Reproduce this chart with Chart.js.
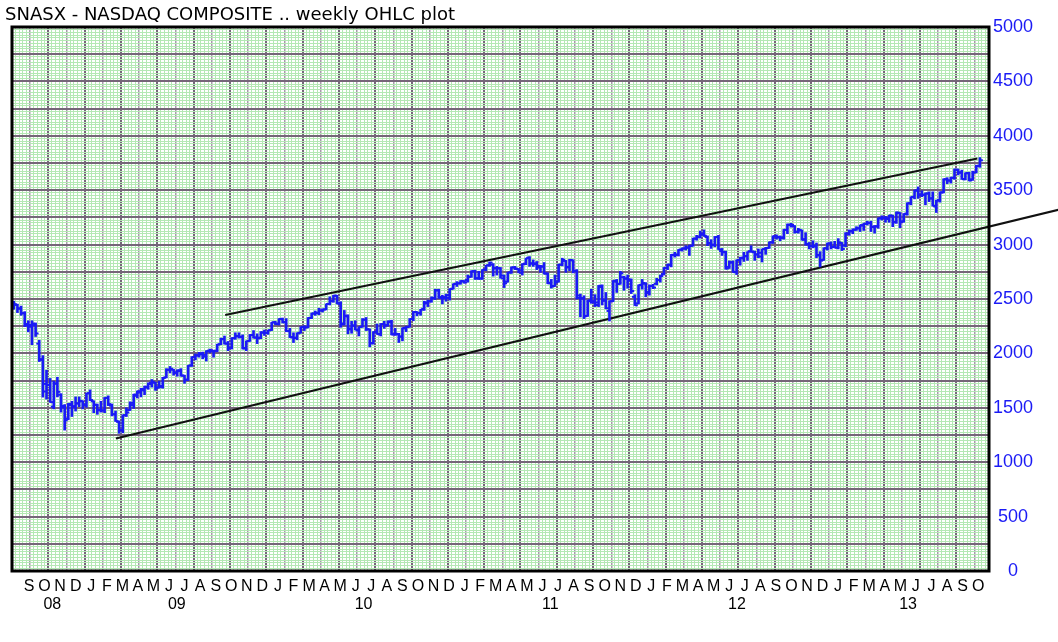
<!DOCTYPE html>
<html><head><meta charset="utf-8">
<script src="https://cdn.jsdelivr.net/npm/chart.js@4.4.1/dist/chart.umd.min.js"></script>
<style>html,body{margin:0;padding:0;background:#fff;}#wrap{width:1058px;height:642px;}</style>
</head><body><div id="wrap"><canvas id="c" width="1058" height="642"></canvas></div>
<script>
const titleText = 'SNASX - NASDAQ COMPOSITE .. weekly OHLC plot';

// Weekly OHLC, week ending 15 Aug 2008 ... 20 Sep 2013
const open = [
2414,2445,2410,2370,2270,2245,2260,2090,1940,1720,
1710,1510,1725,1620,1505,1400,1525,1515,1540,1560,
1525,1635,1560,1525,1480,1475,1590,1520,1440,1370,
1295,1430,1480,1525,1610,1640,1660,1685,1730,1730,
1690,1700,1780,1850,1850,1820,1845,1795,1760,1890,
1965,1985,1990,1970,2025,2020,2025,2085,2130,2090,
2050,2140,2160,2150,2050,2115,2170,2145,2145,2190,
2190,2215,2285,2275,2315,2285,2205,2150,2145,2190,
2240,2240,2325,2365,2370,2395,2405,2455,2480,2530,
2455,2275,2340,2220,2255,2210,2245,2310,2220,2095,
2200,2175,2270,2260,2295,2180,2175,2155,2230,2245,
2315,2380,2370,2410,2460,2480,2510,2580,2510,2510,
2510,2595,2640,2645,2660,2675,2705,2755,2690,2690,
2770,2810,2815,2785,2780,2690,2660,2745,2790,2775,
2740,2825,2880,2825,2820,2790,2800,2735,2650,2620,
2660,2815,2850,2795,2855,2760,2510,2505,2345,2490,
2470,2445,2610,2490,2390,2480,2660,2640,2700,2690,
2670,2520,2460,2630,2640,2565,2620,2640,2675,2730,
2785,2810,2905,2910,2955,2965,2970,2990,3055,3075,
3100,3070,3015,2995,3070,2940,2930,2795,2835,2750,
2860,2880,2895,2940,2930,2910,2890,2960,2970,3020,
3075,3065,3060,3135,3180,3170,3120,3130,3050,3000,
2985,2990,2900,2860,2965,3010,2980,2975,3015,2990,
3100,3120,3140,3150,3175,3190,3200,3165,3165,3240,
3245,3235,3265,3210,3290,3215,3285,3380,3440,3495,
3455,3460,3470,3425,3350,3410,3480,3600,3590,3615,
3685,3665,3600,3655,3600,3665,3725];
const high = [
2480,2453,2435,2384,2300,2300,2280,2120,1980,1845,
1770,1745,1781,1630,1530,1540,1560,1600,1600,1565,
1635,1665,1565,1535,1560,1595,1610,1535,1470,1380,
1435,1500,1555,1625,1655,1680,1700,1730,1760,1735,
1745,1780,1860,1880,1855,1850,1860,1800,1890,1970,
1995,2010,2012,2025,2040,2030,2085,2140,2160,2110,
2145,2190,2190,2170,2115,2175,2210,2180,2200,2215,
2215,2286,2295,2320,2325,2320,2230,2190,2190,2245,
2255,2330,2370,2390,2415,2410,2455,2520,2535,2535,
2475,2395,2355,2295,2300,2245,2320,2330,2225,2200,
2270,2275,2295,2300,2305,2230,2185,2235,2250,2320,
2385,2385,2405,2480,2490,2520,2590,2590,2535,2545,
2595,2640,2660,2670,2670,2720,2760,2765,2755,2770,
2810,2840,2825,2800,2790,2720,2745,2795,2800,2780,
2825,2875,2890,2860,2845,2810,2835,2740,2680,2720,
2820,2875,2855,2865,2860,2770,2545,2530,2490,2590,
2540,2625,2630,2560,2485,2670,2680,2755,2710,2720,
2685,2540,2630,2680,2650,2630,2635,2690,2720,2790,
2820,2910,2930,2955,2970,2990,2995,3060,3085,3125,
3135,3080,3045,3075,3085,2965,2940,2850,2850,2860,
2885,2930,2935,2990,2940,2960,2960,2975,3025,3080,
3090,3080,3140,3190,3196,3175,3150,3135,3110,3020,
3035,3015,2935,2970,3015,3025,3030,3055,3020,3110,
3135,3145,3165,3180,3195,3215,3215,3175,3245,3265,
3260,3270,3270,3300,3295,3285,3385,3440,3500,3530,
3495,3475,3485,3485,3410,3485,3605,3615,3620,3695,
3695,3685,3660,3665,3675,3730,3800];
const low = [
2406,2375,2350,2246,2198,2080,2155,1925,1598,1580,
1550,1490,1600,1460,1295,1390,1420,1470,1510,1490,
1505,1565,1455,1440,1460,1455,1520,1425,1375,1265,
1270,1420,1475,1495,1590,1600,1620,1670,1690,1660,
1680,1680,1775,1820,1800,1790,1790,1725,1750,1880,
1940,1965,1950,1930,2005,1965,2015,2080,2085,2025,
2040,2130,2140,2040,2025,2110,2140,2090,2135,2165,
2175,2210,2265,2260,2280,2200,2145,2100,2125,2185,
2210,2235,2320,2350,2355,2380,2400,2445,2470,2455,
2240,2260,2180,2185,2215,2160,2240,2210,2060,2085,
2175,2160,2230,2250,2170,2165,2100,2115,2200,2240,
2300,2345,2350,2395,2430,2470,2495,2505,2455,2480,
2490,2590,2615,2635,2645,2655,2700,2680,2680,2680,
2760,2800,2710,2720,2690,2605,2655,2735,2770,2740,
2720,2815,2800,2800,2770,2745,2730,2640,2600,2615,
2655,2805,2745,2760,2740,2500,2335,2320,2340,2460,
2430,2430,2445,2410,2298,2475,2560,2635,2580,2600,
2550,2440,2455,2590,2520,2535,2595,2630,2655,2720,
2770,2795,2885,2895,2940,2950,2900,2985,3040,3060,
3075,2990,2965,2980,2955,2900,2775,2780,2745,2725,
2810,2845,2855,2930,2855,2880,2840,2910,2965,3010,
3050,3035,3050,3100,3160,3105,3105,3040,2995,2960,
2970,2880,2795,2855,2950,2960,2970,2960,2945,2980,
3085,3100,3130,3120,3130,3180,3120,3105,3150,3225,
3205,3205,3165,3195,3155,3205,3270,3365,3420,3425,
3440,3365,3395,3355,3295,3390,3475,3560,3565,3600,
3640,3600,3595,3585,3590,3660,3710];
const close = [
2453,2415,2368,2256,2261,2274,2183,1947,1650,1711,
1552,1721,1647,1517,1384,1536,1509,1541,1564,1530,
1632,1572,1529,1477,1476,1592,1534,1441,1378,1294,
1432,1457,1545,1622,1653,1673,1694,1719,1739,1680,
1692,1774,1849,1859,1827,1838,1797,1756,1887,1966,
1979,2000,1986,2021,2029,2019,2081,2133,2091,2048,
2139,2157,2154,2045,2112,2168,2146,2138,2194,2190,
2212,2286,2269,2317,2288,2205,2147,2141,2184,2244,
2238,2326,2368,2374,2395,2403,2454,2481,2530,2461,
2266,2347,2229,2257,2219,2244,2310,2223,2092,2196,
2179,2269,2255,2288,2173,2180,2154,2234,2242,2316,
2381,2371,2402,2469,2479,2507,2579,2518,2518,2535,
2591,2638,2643,2666,2653,2703,2755,2690,2687,2769,
2809,2834,2781,2785,2716,2644,2743,2790,2780,2765,
2820,2874,2828,2828,2803,2797,2733,2644,2616,2653,
2816,2860,2790,2859,2756,2532,2508,2342,2480,2480,
2468,2622,2483,2415,2479,2668,2637,2737,2686,2679,
2573,2442,2627,2647,2555,2619,2605,2674,2711,2787,
2817,2906,2904,2952,2964,2976,2988,3055,3068,3092,
3081,3011,3000,3069,2956,2934,2779,2838,2747,2858,
2873,2892,2935,2937,2908,2925,2958,2968,3021,3077,
3070,3067,3136,3184,3180,3116,3136,3044,3006,2988,
2982,2905,2853,2967,3010,2978,2971,3021,2960,3102,
3126,3135,3150,3179,3194,3199,3162,3170,3244,3249,
3245,3268,3204,3295,3206,3279,3379,3437,3499,3459,
3456,3469,3424,3357,3403,3479,3600,3588,3613,3690,
3660,3603,3658,3590,3660,3722,3775];

// Trend lines: [week index, value]
const trendUpper = [{x: 58.7, y: 2352}, {x: 265.8, y: 3792}];
const trendLower = [{x: 28.6, y: 1218}, {x: 288.2, y: 3321}];

// Month categories Sep 2008 .. Oct 2013
const monthLetters = 'JFMAMJJASOND';
const monthLabels = [];
const monthYears = [];
for (let y = 2008, m = 8; y < 2013 || (y === 2013 && m <= 9);) {
  monthLabels.push(monthLetters[m]); monthYears.push(y);
  m++; if (m === 12) { m = 0; y++; }
}
const yearLabels = ['08', '09', '10', '11', '12', '13'];
const yearCenters = yearLabels.map(lbl => {
  const idx = [];
  monthYears.forEach((y, i) => { if (String(y).slice(2) === lbl) idx.push(i); });
  return (idx[0] + idx[idx.length - 1]) / 2;
});

const BLUE = '#1a1af5';
const DARK = '#756679';
const MID = '#a898ab';
const GREEN = '#b4e8b4';
const weekPos = close.map((_, i) => i + 0.5);

const framePlugin = {
  id: 'frame',
  afterDatasetsDraw(chart) {
    const {ctx, chartArea: a} = chart;
    ctx.save();
    ctx.strokeStyle = '#000';
    ctx.lineWidth = 3;
    ctx.strokeRect(a.left, a.top, a.right - a.left, a.bottom - a.top);
    ctx.restore();
  }
};

new Chart(document.getElementById('c'), {
  type: 'scatter',
  data: {
    datasets: [
      { type: 'bar', data: weekPos.map((x, i) => ({x, y: [low[i], high[i]]})),
        backgroundColor: BLUE, barThickness: 2, xAxisID: 'x', yAxisID: 'y' },
      { type: 'scatter', data: weekPos.map((x, i) => ({x: x - 0.4, y: open[i]})),
        pointStyle: 'line', pointRadius: 1.5, pointBorderWidth: 2, pointBorderColor: BLUE,
        pointBackgroundColor: BLUE, xAxisID: 'x', yAxisID: 'y' },
      { type: 'scatter', data: weekPos.map((x, i) => ({x: x + 0.4, y: close[i]})),
        pointStyle: 'line', pointRadius: 1.5, pointBorderWidth: 2, pointBorderColor: BLUE,
        pointBackgroundColor: BLUE, xAxisID: 'x', yAxisID: 'y' },
      { type: 'line', data: trendUpper, borderColor: '#111', borderWidth: 2, pointRadius: 0,
        xAxisID: 'x', yAxisID: 'y' },
      { type: 'line', data: trendLower, borderColor: '#111', borderWidth: 2, pointRadius: 0,
        clip: false, xAxisID: 'x', yAxisID: 'y' }
    ]
  },
  options: {
    responsive: false, animation: false, events: [],
    layout: { padding: { left: 5, right: 0, top: 0, bottom: 0 } },
    plugins: {
      legend: { display: false }, tooltip: { enabled: false },
      title: { display: true, text: titleText, align: 'start', color: '#000',
        font: { family: 'DejaVu Sans', size: 18, weight: 'normal' },
        padding: { top: 4.4, bottom: 1 } }
    },
    scales: {
      x: { type: 'linear', position: 'bottom', min: 0, max: 269, weight: 0, offset: false,
        ticks: { display: false, stepSize: 1, autoSkip: false },
        grid: { offset: false, drawTicks: false,
          color: c => { const v = c.tick.value; return v % 10 === 0 ? DARK : (v % 5 === 0 ? MID : GREEN); },
          lineWidth: c => { const v = c.tick.value; return v % 10 === 0 ? 2 : (v % 5 === 0 ? 1.5 : 1); } },
        border: { display: false },
        afterFit: s => { s.height = 0; } },
      xm: { type: 'linear', position: 'bottom', min: -1.093, max: 61.7, weight: 1, offset: false,
        afterBuildTicks: s => { s.ticks = monthLabels.map((_, i) => ({value: i})); },
        ticks: { autoSkip: false, maxRotation: 0, minRotation: 0, padding: 6, color: '#000',
          font: { family: 'Liberation Sans', size: 16 }, callback: (v, i) => monthLabels[i] },
        grid: { display: false, drawTicks: false, offset: false }, border: { display: false },
        afterFit: s => { s.height = 20; } },
      xy: { type: 'linear', position: 'bottom', min: -1.093, max: 61.7, weight: 2, offset: false,
        afterBuildTicks: s => { s.ticks = yearCenters.map(v => ({value: v})); },
        ticks: { autoSkip: false, maxRotation: 0, minRotation: 0, padding: 4, color: '#000',
          font: { family: 'Liberation Sans', size: 16 }, callback: (v, i) => yearLabels[i] },
        grid: { display: false, drawTicks: false, offset: false }, border: { display: false },
        afterFit: s => { s.height = 51; } },
      y: { type: 'linear', position: 'right', min: 0, max: 5000,
        ticks: { stepSize: 25, autoSkip: false, padding: 4, crossAlign: 'center', color: BLUE,
          font: { family: 'Liberation Sans', size: 18 },
          callback: v => (v % 500 === 0 ? String(v) : '') },
        grid: { drawTicks: false,
          color: c => (c.tick.value % 250 === 0 ? DARK : GREEN),
          lineWidth: c => (c.tick.value % 250 === 0 ? 2 : 1) },
        border: { display: false },
        afterFit: s => { s.width = 69; } },
      yl: { type: 'linear', position: 'left', display: true,
        ticks: { display: false }, grid: { display: false, drawTicks: false }, border: { display: false },
        afterFit: s => { s.width = 7; } }
    }
  },
  plugins: [framePlugin]
});
</script>
</body></html>
